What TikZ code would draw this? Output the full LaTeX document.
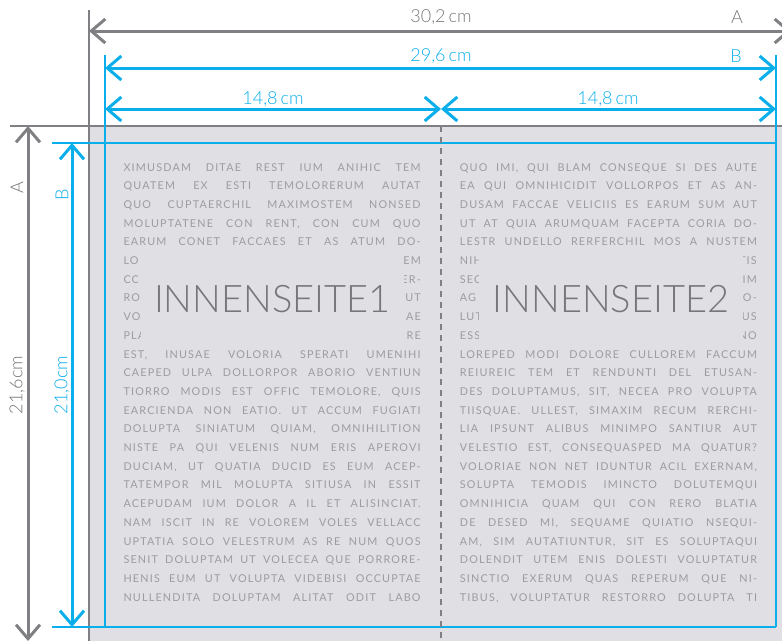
\documentclass[tikz,border=0pt]{standalone}
\usepackage{fontspec}
\setmainfont{Lato}
\newfontfamily\bodyfont[LetterSpace=11]{Lato}
\newfontfamily\lightfont{Lato Light}
\usetikzlibrary{arrows.meta}
\definecolor{dimgrey}{HTML}{808084}
\definecolor{dimblue}{HTML}{0AAEEA}
\definecolor{pagefill}{HTML}{E0DFE3}
\definecolor{bodygrey}{HTML}{9C9CA2}
\definecolor{labelgrey}{HTML}{76767C}
\definecolor{dimtext}{HTML}{77777B}
\newcommand\colline[4]{\node[bodytxt,anchor=base west] (#1) at (#2,{171+(#3-1)*18.7}) {\makebox[297pt][s]{#4}};}
\newcommand\fragL[4]{\node[bodytxt,anchor=base west] (#1) at (#2,{171+(#3-1)*18.7}) {#4};}
\newcommand\fragR[4]{\node[bodytxt,anchor=base east] (#1) at (#2,{171+(#3-1)*18.7}) {#4};}
\begin{document}
\begin{tikzpicture}[x=1pt,y=-1pt,
  greydim/.style={draw=dimgrey,line width=3pt,{Straight Barb[length=14pt,width=24pt]}-{Straight Barb[length=14pt,width=24pt]}},
  bluedim/.style={draw=dimblue,line width=3pt,{Straight Barb[length=14pt,width=24pt]}-{Straight Barb[length=14pt,width=24pt]}},
  greyline/.style={draw=dimgrey,line width=1.5pt},
  blueline/.style={draw=dimblue,line width=1.5pt},
  foldline/.style={draw=dimgrey,line width=2pt,dash pattern=on 6pt off 5pt},
  greylabel/.style={text=dimtext,font=\lightfont\fontsize{18}{20}\selectfont,inner sep=0pt},
  bluelabel/.style={text=dimblue,font=\lightfont\fontsize{18}{20}\selectfont,inner sep=0pt},
  bodytxt/.style={text=bodygrey,font=\bodyfont\fontsize{10.8}{12}\selectfont,inner sep=0pt},
  maskbox/.style={fill=pagefill,inner sep=0pt,text=labelgrey,font=\lightfont\fontsize{38}{40}\selectfont}]
\useasboundingbox (0,0) rectangle (782,641);
\clip (0,0) rectangle (782,641);
% page
\fill[pagefill] (89,126) rectangle (782,641);
% coordinates
\coordinate (gx0) at (89,31);   \coordinate (gx1) at (791,31);
\coordinate (bx0) at (105,68);  \coordinate (bx1) at (776,68);
\coordinate (hx0) at (105,109); \coordinate (hxm) at (441,109); \coordinate (hx1) at (776,109);
\coordinate (gy0) at (28,126);  \coordinate (gy1) at (28,641);
\coordinate (by0) at (72,143);  \coordinate (by1) at (72,627);
% left column text
\colline{l1}{123.3}{1}{XIMUSDAM DITAE REST IUM ANIHIC TEM}
\colline{l2}{123.3}{2}{QUATEM EX ESTI TEMOLORERUM AUTAT}
\colline{l3}{123.3}{3}{QUO CUPTAERCHIL MAXIMOSTEM NONSED}
\colline{l4}{123.3}{4}{MOLUPTATENE CON RENT, CON CUM QUO}
\colline{l5}{123.3}{5}{EARUM CONET FACCAES ET AS ATUM DO-}
\fragL{l6a}{123.3}{6}{LO}\fragR{l6b}{421}{6}{EM}
\fragL{l7a}{123.3}{7}{CC}\fragR{l7b}{421}{7}{TER-}
\fragL{l8a}{123.3}{8}{RO}\fragR{l8b}{421}{8}{UT}
\fragL{l9a}{123.3}{9}{VO}\fragR{l9b}{421}{9}{AE}
\fragL{l10a}{123.3}{10}{PLA}\fragR{l10b}{421}{10}{RE}
\colline{l11}{123.3}{11}{EST, INUSAE VOLORIA SPERATI UMENIHI}
\colline{l12}{123.3}{12}{CAEPED ULPA DOLLORPOR ABORIO VENTIUN}
\colline{l13}{123.3}{13}{TIORRO MODIS EST OFFIC TEMOLORE, QUIS}
\colline{l14}{123.3}{14}{EARCIENDA NON EATIO. UT ACCUM FUGIATI}
\colline{l15}{123.3}{15}{DOLUPTA SINIATUM QUIAM, OMNIHILITION}
\colline{l16}{123.3}{16}{NISTE PA QUI VELENIS NUM ERIS APEROVI}
\colline{l17}{123.3}{17}{DUCIAM, UT QUATIA DUCID ES EUM ACEP-}
\colline{l18}{123.3}{18}{TATEMPOR MIL MOLUPTA SITIUSA IN ESSIT}
\colline{l19}{123.3}{19}{ACEPUDAM IUM DOLOR A IL ET ALISINCIAT.}
\colline{l20}{123.3}{20}{NAM ISCIT IN RE VOLOREM VOLES VELLACC}
\colline{l21}{123.3}{21}{UPTATIA SOLO VELESTRUM AS RE NUM QUOS}
\colline{l22}{123.3}{22}{SENIT DOLUPTAM UT VOLECEA QUE PORRORE-}
\colline{l23}{123.3}{23}{HENIS EUM UT VOLUPTA VIDEBISI OCCUPTAE}
\colline{l24}{123.3}{24}{NULLENDITA DOLUPTAM ALITAT ODIT LABO}
% right column text
\colline{r1}{459.7}{1}{QUO IMI, QUI BLAM CONSEQUE SI DES AUTE}
\colline{r2}{459.7}{2}{EA QUI OMNIHICIDIT VOLLORPOS ET AS AN-}
\colline{r3}{459.7}{3}{DUSAM FACCAE VELICIIS ES EARUM SUM AUT}
\colline{r4}{459.7}{4}{UT AT QUIA ARUMQUAM FACEPTA CORIA DO-}
\colline{r5}{459.7}{5}{LESTR UNDELLO RERFERCHIL MOS A NUSTEM}
\fragL{r6a}{459.7}{6}{NIH}\fragR{r6b}{757}{6}{TIS}
\fragL{r7a}{459.7}{7}{SEC}\fragR{r7b}{757}{7}{IM}
\fragL{r8a}{459.7}{8}{AG}\fragR{r8b}{757}{8}{O-}
\fragL{r9a}{459.7}{9}{LUT}\fragR{r9b}{757}{9}{US}
\fragL{r10a}{459.7}{10}{ESS}\fragR{r10b}{757}{10}{NO}
\colline{r11}{459.7}{11}{LOREPED MODI DOLORE CULLOREM FACCUM}
\colline{r12}{459.7}{12}{REIUREIC TEM ET RENDUNTI DEL ETUSAN-}
\colline{r13}{459.7}{13}{DES DOLUPTAMUS, SIT, NECEA PRO VOLUPTA}
\colline{r14}{459.7}{14}{TIISQUAE. ULLEST, SIMAXIM RECUM RERCHI-}
\colline{r15}{459.7}{15}{LIA IPSUNT ALIBUS MINIMPO SANTIUR AUT}
\colline{r16}{459.7}{16}{VELESTIO EST, CONSEQUASPED MA QUATUR?}
\colline{r17}{459.7}{17}{VOLORIAE NON NET IDUNTUR ACIL EXERNAM,}
\colline{r18}{459.7}{18}{SOLUPTA TEMODIS IMINCTO DOLUTEMQUI}
\colline{r19}{459.7}{19}{OMNIHICIA QUAM QUI CON RERO BLATIA}
\colline{r20}{459.7}{20}{DE DESED MI, SEQUAME QUIATIO NSEQUI-}
\colline{r21}{459.7}{21}{AM, SIM AUTATIUNTUR, SIT ES SOLUPTAQUI}
\colline{r22}{459.7}{22}{DOLENDIT UTEM ENIS DOLESTI VOLUPTATUR}
\colline{r23}{459.7}{23}{SINCTIO EXERUM QUAS REPERUM QUE NI-}
\colline{r24}{459.7}{24}{TIBUS, VOLUPTATUR RESTORRO DOLUPTA TI}
% page labels
\node[maskbox,minimum width=263.5pt,minimum height=96pt] (inner1) at (272.25,299) {INNENSEITE1};
\node[maskbox,minimum width=264pt,minimum height=96pt] (inner2) at (611,299) {INNENSEITE2};
% frame lines
\draw[greyline] (89,10) -- (89,641);
\draw[greyline] (10,126) -- (782,126);
\draw[blueline] (105,55) -- (105,627);
\draw[blueline] (776,55) -- (776,627);
\draw[blueline] (52,143) -- (776,143);
\draw[blueline] (52,627) -- (776,627);
\draw[foldline] (441,126) -- (441,641);
% dimension arrows
\draw[greydim] (gx0) -- (gx1);
\draw[bluedim] (bx0) -- (bx1);
\draw[bluedim] (hx0) -- (hxm);
\draw[bluedim] (hxm) -- (hx1);
\draw[greydim] (gy0) -- (gy1);
\draw[bluedim] (by0) -- (by1);
% dimension labels
\node[greylabel] (t302) at (441,17) {30,2\,cm};
\node[greylabel] (tA1) at (737,17) {A};
\node[bluelabel] (t296) at (441,56) {29,6\,cm};
\node[bluelabel] (tB1) at (736,56) {B};
\node[bluelabel] (t148a) at (273,99) {14,8\,cm};
\node[bluelabel] (t148b) at (608,99) {14,8\,cm};
\node[greylabel,rotate=90] (tA2) at (17,188) {A};
\node[greylabel,rotate=90] (t216) at (17,385) {21,6cm};
\node[bluelabel,rotate=90] (tB2) at (62,195) {B};
\node[bluelabel,rotate=90] (t210) at (62,385) {21,0cm};
\end{tikzpicture}
\end{document}
